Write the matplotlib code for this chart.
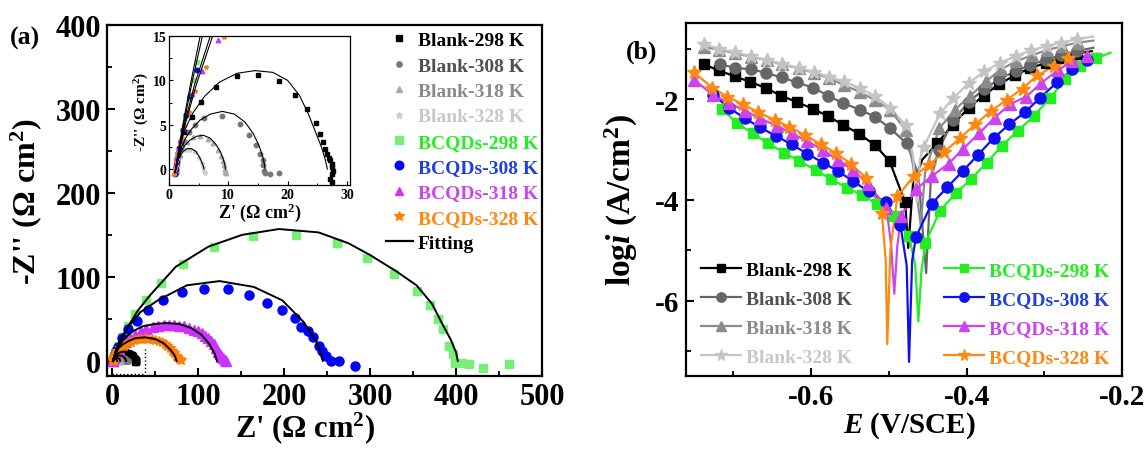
import matplotlib
matplotlib.use("Agg")
import matplotlib.pyplot as plt
from matplotlib.lines import Line2D
from matplotlib.ticker import MultipleLocator

plt.rcParams.update({
    "font.family": "Liberation Serif",
    "font.weight": "bold",
    "axes.labelweight": "bold",
    "mathtext.fontset": "custom",
    "mathtext.rm": "Liberation Serif:bold",
    "mathtext.it": "Liberation Serif:bold:italic",
    "mathtext.bf": "Liberation Serif:bold",
    "axes.unicode_minus": False,
    "axes.linewidth": 1.6,
    "xtick.direction": "in",
    "ytick.direction": "in",
})

# ── (a) Nyquist data ─────────────────────────────────────────────────────────
labels = ["Blank-298 K", "Blank-308 K", "Blank-318 K", "Blank-328 K",
          "BCQDs-298 K", "BCQDs-308 K", "BCQDs-318 K", "BCQDs-328 K"]

blank298_x = [1.1, 1.2, 1.4, 1.7, 2.1, 2.7, 3.9, 5.4, 7.9, 11.4, 15.0, 18.5, 21.3, 23.2, 24.8,
              25.5, 25.9, 26.3, 26.6, 26.9, 27.2, 27.4, 27.5, 27.6, 27.4, 27.2, 27.4]
blank298_y = [-0.3, 0.4, 1.1, 2.0, 2.9, 4.2, 5.9, 7.6, 9.3, 10.5, 10.6, 9.9, 8.4, 6.8, 5.2,
              3.9, 3.0, 2.3, 1.7, 1.3, 1.0, 0.6, 0.2, -0.2, -0.6, -1.1, -1.5]
blank308_x = [1.1, 1.3, 1.6, 2.0, 2.6, 3.4, 4.4, 5.9, 8.9, 11.9, 13.5, 14.7, 15.4, 15.8, 15.9,
              16.1, 16.2, 17.0, 18.5]
blank308_y = [-0.4, 0.5, 1.3, 2.2, 3.2, 4.2, 5.0, 5.8, 6.0, 5.1, 3.8, 2.7, 1.7, 1.0, 0.4,
              -0.2, -0.5, -0.6, -0.5]
blank318_x = [1.0, 1.2, 1.4, 1.8, 2.3, 3.0, 4.1, 5.3, 6.5, 7.5, 8.3, 8.8, 9.1, 9.3, 9.4, 9.5, 9.6]
blank318_y = [-0.4, 0.3, 0.9, 1.6, 2.4, 3.1, 3.6, 3.7, 3.4, 2.9, 2.2, 1.5, 0.9, 0.4, 0.0, -0.3, -0.4]
blank328_x = [1.0, 1.1, 1.3, 1.6, 2.1, 2.8, 3.6, 4.4, 5.1, 5.5, 5.8, 5.9, 6.0]
blank328_y = [-0.3, 0.3, 0.9, 1.5, 1.9, 2.2, 2.2, 1.9, 1.3, 0.7, 0.2, -0.2, -0.4]

bcqd298_x = [1.0, 1.1, 1.3, 1.5, 1.8, 2.2, 2.7, 3.3, 4.0, 4.8, 7, 11, 18, 27, 39, 57, 82, 119,
             164, 214, 261, 297, 328, 354, 370, 379, 385, 392, 397, 399, 407, 415, 431, 461]
bcqd298_y = [-0.5, 0.2, 1.0, 1.8, 2.8, 4.4, 6.0, 8.0, 10.0, 12.1, 18, 28, 42, 56, 73, 93, 115, 135,
             149, 150, 140, 123, 103, 83, 67, 50, 38, 18, 8, -2, -3, -4, -9, -4]
bcqd308_x = [1.0, 1.1, 1.3, 1.5, 1.7, 2.0, 2.3, 2.8, 3.5, 4.7, 7, 11, 18, 29, 42, 59, 81, 107,
             135, 159, 180, 198, 213, 220, 228, 234, 241, 244, 249, 255, 264, 282]
bcqd308_y = [-0.6, 0.0, 0.8, 1.6, 2.4, 3.2, 4.4, 6.1, 8.2, 11.2, 17, 27, 38, 48, 60, 72, 82, 85,
             85, 78, 69, 60, 51, 40, 36, 28, 18, 12, 6, 0, 0, -6]
bcqd318_x = [0.9, 1.0, 1.2, 1.5, 1.9, 2.4, 3.0, 3.9, 5.6, 8.2, 11, 15, 21, 27, 34, 40, 47, 53, 60,
             66, 72, 78, 84, 89, 95, 100, 104, 108, 112, 115, 118, 121, 123, 125, 127, 129, 131, 133]
bcqd318_y = [-0.4, 0.3, 1.2, 2.2, 3.3, 4.6, 6.4, 8.5, 11.0, 14.6, 18, 22, 27, 31, 35, 38, 40, 42, 43,
             43, 43, 42, 41, 39, 37, 35, 33, 30, 27, 24, 20, 15, 11, 8, 5, 3, 1, 0]
bcqd328_x = [0.9, 1.0, 1.1, 1.4, 1.8, 2.2, 2.6, 3.3, 4.3, 6.2, 9.3, 12, 14, 18, 22, 26, 30, 34, 38,
             42, 46, 50, 54, 58, 61, 64, 67, 70, 72, 74, 76, 78, 80]
bcqd328_y = [-0.6, 0.0, 0.8, 1.8, 2.7, 3.5, 4.8, 6.4, 8.8, 11.5, 14.9, 16, 18, 21, 23, 25, 26, 26.5, 27,
             26.5, 26, 25, 24, 22, 20, 18, 15, 12, 9, 6, 4, 2, 1]

fit298b_x = [1.2, 1.5, 2.0, 2.8, 4.0, 6.0, 8.5, 11.5, 14.5, 17.5, 20.0, 22.0, 23.5, 24.8, 25.8, 26.4, 26.7]
fit298b_y = [0, 1.5, 3.0, 4.6, 6.3, 8.2, 9.8, 10.8, 11.1, 10.9, 10.0, 8.3, 6.2, 4.0, 2.3, 0.9, 0]
fit308b_x = [1.2, 1.5, 2.0, 2.8, 3.8, 5.2, 7.0, 9.0, 11.0, 12.8, 14.2, 15.2, 15.8, 16.1, 16.2]
fit308b_y = [0, 1.2, 2.3, 3.5, 4.5, 5.5, 6.2, 6.5, 6.2, 5.3, 4.0, 2.6, 1.4, 0.5, 0]
fit318b_x = [1.2, 1.5, 2.0, 2.7, 3.6, 4.7, 5.8, 6.9, 7.9, 8.7, 9.2, 9.45, 9.5]
fit318b_y = [0, 1.0, 1.9, 2.7, 3.3, 3.7, 3.8, 3.5, 2.8, 1.9, 1.0, 0.4, 0]
fit328b_x = [1.2, 1.4, 1.8, 2.4, 3.1, 3.8, 4.5, 5.1, 5.5, 5.8, 5.9]
fit328b_y = [0, 0.8, 1.5, 2.0, 2.3, 2.3, 2.0, 1.4, 0.8, 0.3, 0]
fit298q_x = [1.0, 2.2, 3.6, 5.4, 8, 18, 30, 44, 74, 112, 151, 194, 240, 275, 300, 330, 354, 372, 384, 394, 400, 402]
fit298q_y = [-0.4, 4.5, 9.5, 15.5, 22, 40, 60, 78, 112, 136, 150, 157, 153, 140, 126, 107, 90, 68, 44, 25, 10, 0]
fit308q_x = [1.0, 2.3, 3.8, 5.8, 9, 18, 33, 53, 87, 125, 165, 198, 223, 238, 245]
fit308q_y = [-0.4, 4.5, 9.5, 15.5, 23, 40, 58, 72, 90, 95, 88, 72, 46, 22, 0]
fit318q_x = [1.0, 2.4, 4.3, 7.2, 12, 22, 35, 50, 63, 78, 92, 104, 113, 119, 122]
fit318q_y = [-0.4, 4.5, 9.5, 15.5, 24, 34, 41, 44, 45, 44, 39, 31, 20, 9, 0]
fit328q_x = [1.0, 2.5, 4.6, 7.6, 13, 20, 27, 38, 50, 60, 68, 73, 75]
fit328q_y = [-0.4, 4.5, 9.5, 15.5, 20, 24, 27, 28, 26, 21, 13, 6, 0]

# ── (b) Tafel data: markers, plus line-only points (dip at Ecorr, branch end)
blank298_E = [-0.738, -0.719, -0.698, -0.678, -0.658, -0.639, -0.618, -0.598, -0.578, -0.559, -0.538, -0.518,
              -0.499, -0.479, -0.438, -0.418, -0.397, -0.378, -0.358, -0.338, -0.319, -0.298, -0.278, -0.258]
blank298_L = [-1.31, -1.43, -1.55, -1.66, -1.78, -1.93, -2.06, -2.19, -2.34, -2.51, -2.69, -2.91,
              -3.23, -4.05, -2.88, -2.51, -2.17, -1.93, -1.70, -1.53, -1.39, -1.28, -1.18, -1.10]
blank298_xE = [-0.475, -0.469, -0.457, -0.239]
blank298_xL = [-4.95, -3.70, -3.20, -1.05]

blank308_E = [-0.717, -0.698, -0.677, -0.658, -0.638, -0.618, -0.598, -0.578, -0.559, -0.537, -0.518, -0.499,
              -0.477, -0.436, -0.417, -0.397, -0.377, -0.358, -0.337, -0.318, -0.298, -0.278, -0.258]
blank308_L = [-1.31, -1.38, -1.41, -1.48, -1.57, -1.67, -1.77, -1.93, -2.08, -2.21, -2.35, -2.57,
              -2.88, -3.00, -2.42, -2.05, -1.80, -1.60, -1.45, -1.32, -1.22, -1.13, -1.05]
blank308_xE = [-0.462, -0.452, -0.446, -0.237]
blank308_xL = [-3.50, -5.45, -3.60, -0.98]

blank318_E = [-0.738, -0.718, -0.698, -0.677, -0.657, -0.637, -0.616, -0.596, -0.577, -0.558, -0.537, -0.518,
              -0.498, -0.478, -0.435, -0.415, -0.395, -0.375, -0.356, -0.336, -0.316, -0.297, -0.277, -0.257]
blank318_L = [-0.97, -1.02, -1.09, -1.16, -1.23, -1.31, -1.39, -1.48, -1.59, -1.72, -1.86, -2.02,
              -2.22, -2.62, -2.58, -2.21, -1.93, -1.65, -1.41, -1.25, -1.13, -1.03, -0.95, -0.88]
blank318_xE = [-0.469, -0.459, -0.453, -0.237]
blank318_xL = [-3.30, -4.50, -3.40, -0.84]

blank328_E = [-0.738, -0.718, -0.698, -0.677, -0.657, -0.637, -0.616, -0.596, -0.577, -0.558, -0.537, -0.518,
              -0.498, -0.478, -0.455, -0.434, -0.417, -0.397, -0.377, -0.357, -0.337, -0.317, -0.297, -0.278, -0.258]
blank328_L = [-0.91, -1.00, -1.07, -1.15, -1.22, -1.30, -1.38, -1.46, -1.56, -1.65, -1.78, -1.94,
              -2.18, -2.52, -2.95, -2.28, -1.98, -1.68, -1.45, -1.28, -1.15, -1.03, -0.95, -0.88, -0.81]
blank328_xE = [-0.469, -0.464, -0.460, -0.237]
blank328_xL = [-3.10, -4.05, -3.20, -0.76]

bcqd298_E = [-0.715, -0.695, -0.675, -0.655, -0.635, -0.615, -0.594, -0.574, -0.554, -0.534, -0.515, -0.493,
             -0.474, -0.453, -0.434, -0.414, -0.394, -0.374, -0.355, -0.334, -0.313, -0.293, -0.273, -0.254, -0.233]
bcqd298_L = [-2.19, -2.48, -2.68, -2.88, -3.06, -3.23, -3.41, -3.59, -3.76, -3.91, -4.08, -4.31,
             -4.71, -4.85, -4.21, -3.87, -3.58, -3.26, -2.93, -2.63, -2.33, -1.98, -1.61, -1.35, -1.19]
bcqd298_xE = [-0.466, -0.462, -0.458, -0.215]
bcqd298_xL = [-5.30, -6.41, -5.40, -1.08]

bcqd308_E = [-0.726, -0.705, -0.685, -0.666, -0.645, -0.625, -0.605, -0.585, -0.565, -0.546, -0.526, -0.504,
             -0.485, -0.465, -0.445, -0.425, -0.405, -0.385, -0.365, -0.345, -0.325, -0.305, -0.284, -0.264, -0.245]
bcqd308_L = [-1.91, -2.18, -2.38, -2.56, -2.73, -2.90, -3.08, -3.26, -3.43, -3.63, -3.83, -4.05,
             -4.50, -4.73, -4.08, -3.75, -3.43, -3.10, -2.77, -2.50, -2.26, -1.97, -1.67, -1.41, -1.23]
bcqd308_xE = [-0.477, -0.474, -0.470, -0.227]
bcqd308_xL = [-5.30, -7.21, -5.20, -1.11]

bcqd318_E = [-0.750, -0.726, -0.705, -0.685, -0.666, -0.644, -0.625, -0.605, -0.585, -0.565, -0.546, -0.527, -0.503,
             -0.484, -0.465, -0.445, -0.423, -0.404, -0.384, -0.364, -0.344, -0.323, -0.304, -0.283, -0.264, -0.245]
bcqd318_L = [-1.62, -1.92, -2.08, -2.23, -2.38, -2.53, -2.68, -2.83, -3.01, -3.21, -3.41, -3.68, -4.15,
             -4.31, -3.79, -3.53, -3.28, -2.98, -2.68, -2.37, -2.10, -1.95, -1.68, -1.43, -1.25, -1.15]
bcqd318_xE = [-0.497, -0.493, -0.489, -0.232]
bcqd318_xL = [-4.90, -5.86, -4.90, -1.10]

bcqd328_E = [-0.751, -0.727, -0.708, -0.688, -0.668, -0.647, -0.628, -0.608, -0.587, -0.568, -0.549, -0.529, -0.509,
             -0.489, -0.468, -0.448, -0.429, -0.408, -0.389, -0.368, -0.348, -0.328, -0.309, -0.288, -0.269]
bcqd328_L = [-1.47, -1.77, -1.95, -2.10, -2.26, -2.41, -2.55, -2.71, -2.90, -3.07, -3.28, -3.57, -4.25,
             -3.93, -3.53, -3.30, -3.05, -2.77, -2.50, -2.23, -2.01, -1.79, -1.53, -1.35, -1.19]
bcqd328_xE = [-0.504, -0.502, -0.498, -0.250]
bcqd328_xL = [-5.20, -6.86, -5.00, -1.08]

# ── styles ───────────────────────────────────────────────────────────────────
markers = ["s", "o", "^", "*", "s", "o", "^", "*"]
colors_a = ["#000000", "#777777", "#aaaaaa", "#cccccc", "#77ee77", "#0000ff", "#cc33ff", "#ff8000"]
colors_b = ["#000000", "#666666", "#8c8c8c", "#c4c4c4", "#22ee22", "#1010ee", "#cc44ee", "#ff8811"]
text_colors = ["#000000", "#505050", "#8a8a8a", "#c8c8c8", "#22ee22", "#2040e0", "#cc44ee", "#ff8811"]

nyq_x = [blank298_x, blank308_x, blank318_x, blank328_x, bcqd298_x, bcqd308_x, bcqd318_x, bcqd328_x]
nyq_y = [blank298_y, blank308_y, blank318_y, blank328_y, bcqd298_y, bcqd308_y, bcqd318_y, bcqd328_y]
fit_x = [fit298b_x, fit308b_x, fit318b_x, fit328b_x, fit298q_x, fit308q_x, fit318q_x, fit328q_x]
fit_y = [fit298b_y, fit308b_y, fit318b_y, fit328b_y, fit298q_y, fit308q_y, fit318q_y, fit328q_y]
taf_E = [blank298_E, blank308_E, blank318_E, blank328_E, bcqd298_E, bcqd308_E, bcqd318_E, bcqd328_E]
taf_L = [blank298_L, blank308_L, blank318_L, blank328_L, bcqd298_L, bcqd308_L, bcqd318_L, bcqd328_L]
taf_xE = [blank298_xE, blank308_xE, blank318_xE, blank328_xE, bcqd298_xE, bcqd308_xE, bcqd318_xE, bcqd328_xE]
taf_xL = [blank298_xL, blank308_xL, blank318_xL, blank328_xL, bcqd298_xL, bcqd308_xL, bcqd318_xL, bcqd328_xL]

ms_main = [4, 4, 4.5, 5, 5.5, 6.5, 6.5, 7.5]
ms_b = [7.5, 8, 8.5, 10, 7.5, 8, 8.5, 10]

fig = plt.figure(figsize=(11.45, 4.52), dpi=100)

# ── panel (a) ────────────────────────────────────────────────────────────────
ax1 = fig.add_axes([0.0934, 0.166, 0.380, 0.7765])
for i in range(8):
    ax1.plot(nyq_x[i], nyq_y[i], ls="none", marker=markers[i], ms=ms_main[i],
             color=colors_a[i], mec=colors_a[i], zorder=2)
for i in range(8):
    ax1.plot(fit_x[i], fit_y[i], color="black", lw=1.4, zorder=3)
# dotted frame marking the zoomed region
ax1.plot([38, 38], [-18, 14], ls=":", color="black", lw=1.0, zorder=4)
ax1.plot([0, 38], [-16, -16], ls=":", color="black", lw=1.0, zorder=4)
ax1.set_xlim(-6, 500)
ax1.set_ylim(-18, 400)
ax1.xaxis.set_major_locator(MultipleLocator(100))
ax1.xaxis.set_minor_locator(MultipleLocator(50))
ax1.yaxis.set_major_locator(MultipleLocator(100))
ax1.yaxis.set_minor_locator(MultipleLocator(50))
ax1.tick_params(which="major", length=6, width=1.5, labelsize=22, pad=4)
ax1.tick_params(which="minor", length=3.5, width=1.3)
ax1.set_xlabel("Z' (Ω cm$^2$)", fontsize=22)
ax1.set_ylabel("-Z'' (Ω cm$^2$)", fontsize=23)
ax1.xaxis.set_label_coords(0.455, -0.095)
ax1.yaxis.set_label_coords(-0.145, 0.5)

handles_a = [Line2D([], [], ls="none", marker=markers[i], ms=ms_main[i] * 0.95, color=colors_a[i])
             for i in range(8)]
handles_a.append(Line2D([], [], color="black", lw=1.6))
leg_a = ax1.legend(handles_a, labels + ["Fitting"], loc="upper left",
                   bbox_to_anchor=(0.337, 0.928), bbox_transform=fig.transFigure,
                   frameon=False, fontsize=14, handlelength=1.4, handletextpad=0.25,
                   labelspacing=0.40, borderpad=0, borderaxespad=0)
for t, c in zip(leg_a.get_texts(), text_colors + ["#000000"]):
    t.set_color(c)

# inset
axi = fig.add_axes([0.1476, 0.5885, 0.158, 0.3296])
for i in range(8):
    axi.plot(nyq_x[i], nyq_y[i], ls="none", marker=markers[i], ms=3.2,
             color=colors_a[i], mec=colors_a[i], zorder=2)
for i in range(8):
    axi.plot(fit_x[i], fit_y[i], color="black", lw=0.8, zorder=3)
axi.set_xlim(0, 30.5)
axi.set_ylim(-1.8, 15)
axi.xaxis.set_major_locator(MultipleLocator(10))
axi.xaxis.set_minor_locator(MultipleLocator(5))
axi.yaxis.set_major_locator(MultipleLocator(5))
axi.yaxis.set_minor_locator(MultipleLocator(2.5))
for s in axi.spines.values():
    s.set_linewidth(0.9)
axi.tick_params(which="major", length=3, width=0.8, labelsize=10, pad=2)
axi.tick_params(which="minor", length=1.8, width=0.7)
axi.set_xlabel("Z' (Ω cm$^2$)", fontsize=13, labelpad=0)
axi.set_ylabel("-Z'' (Ω cm$^2$)", fontsize=11, labelpad=1)

fig.text(0.009, 0.914, "(a)", fontsize=18.5, fontweight="bold", va="center")

# ── panel (b) ────────────────────────────────────────────────────────────────
ax2 = fig.add_axes([0.599, 0.166, 0.381, 0.781])
for i in range(8):
    pts = sorted(zip(taf_E[i] + taf_xE[i], taf_L[i] + taf_xL[i]))
    ax2.plot([p[0] for p in pts], [p[1] for p in pts], color=colors_b[i], lw=1.6, zorder=2)
    ax2.plot(taf_E[i], taf_L[i], ls="none", marker=markers[i], ms=ms_b[i],
             color=colors_b[i], mec=colors_b[i], zorder=3)
ax2.set_xlim(-0.761, -0.2)
ax2.set_ylim(-7.49, -0.49)
ax2.xaxis.set_major_locator(MultipleLocator(0.2))
ax2.xaxis.set_minor_locator(MultipleLocator(0.1))
ax2.yaxis.set_major_locator(MultipleLocator(2))
ax2.yaxis.set_minor_locator(MultipleLocator(1))
ax2.tick_params(which="major", length=6, width=1.5, labelsize=21, pad=5)
ax2.tick_params(which="minor", length=3.5, width=1.3)
ax2.set_xticks([-0.6, -0.4, -0.2])
ax2.set_xticklabels(["-0.6", "-0.4", "-0.2"])
ax2.set_xlabel("$\\mathit{E}$ (V/SCE)", fontsize=21)
ax2.set_ylabel("log$\\mathit{i}$ (A/cm$^2$)", fontsize=24)
ax2.xaxis.set_label_coords(0.513, -0.095)
ax2.yaxis.set_label_coords(-0.105, 0.5)

handles_b = [Line2D([], [], color=colors_b[i], lw=1.6, marker=markers[i], ms=ms_b[i] * 0.85)
             for i in range(8)]
leg_b1 = ax2.legend(handles_b[:4], labels[:4], loc="upper left",
                    bbox_to_anchor=(0.612, 0.420), bbox_transform=fig.transFigure,
                    frameon=False, fontsize=14, handlelength=2.05, handletextpad=0.26,
                    labelspacing=0.59, borderpad=0, borderaxespad=0)
for t, c in zip(leg_b1.get_texts(), text_colors[:4]):
    t.set_color(c)
ax2.add_artist(leg_b1)
leg_b2 = ax2.legend(handles_b[4:], labels[4:], loc="upper left",
                    bbox_to_anchor=(0.8245, 0.420), bbox_transform=fig.transFigure,
                    frameon=False, fontsize=14, handlelength=2.05, handletextpad=0.26,
                    labelspacing=0.59, borderpad=0, borderaxespad=0)
for t, c in zip(leg_b2.get_texts(), text_colors[4:]):
    t.set_color(c)

fig.text(0.547, 0.885, "(b)", fontsize=18.5, fontweight="bold", va="center")

fig.savefig("out.png", dpi=100)
